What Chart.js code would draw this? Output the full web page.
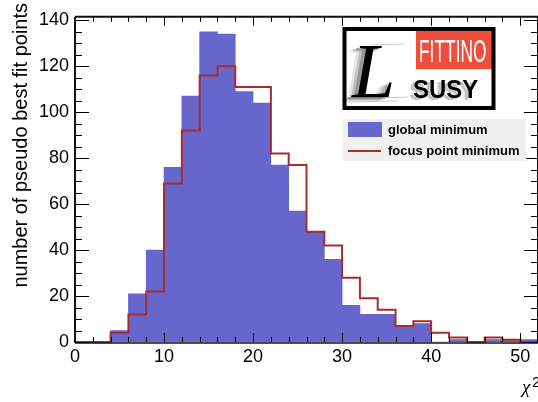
<!DOCTYPE html>
<html>
<head>
<meta charset="utf-8">
<script src="https://cdn.jsdelivr.net/npm/chart.js@4/dist/chart.umd.min.js"></script>
<style>
  body { margin: 0; background: #fff; }
  canvas { display: block; }
</style>
</head>
<body>
<canvas id="chi2Chart" width="538" height="402"></canvas>
<script>
// bin lower edges (width 2) of the chi2 histogram
const binStarts = [0, 2, 4, 6, 8, 10, 12, 14, 16, 18, 20, 22, 24, 26, 28, 30, 32, 34, 36, 38, 40, 42, 44, 46, 48, 50];
const binWidth = 2;
// global minimum (filled blue)
const globalMin = [0, 0, 5, 21, 40, 76, 107, 135, 134, 109, 104, 77, 57, 48, 36, 16, 12, 12, 7, 8, 0, 1, 0, 1, 1, 1];
// focus point minimum (red outline)
const focusPoint = [0, 0, 4, 12, 22, 69, 92, 116, 120, 111, 111, 82, 77, 48, 42, 28, 19, 14, 7, 9, 4, 2, 0, 2, 1, 0];

const xTicks = [0, 10, 20, 30, 40, 50];
const yTicks = [0, 20, 40, 60, 80, 100, 120, 140];

const blauw = 'rgb(102,102,204)';
const punainen = 'rgb(168,46,46)';

// bars sit on bin centres, the step line on bin edges
const barData = binStarts.map((b, i) => ({ x: b + binWidth / 2, y: globalMin[i] }));
const stepData = binStarts.map((b, i) => ({ x: b, y: focusPoint[i] }));
stepData.push({ x: binStarts[binStarts.length - 1] + binWidth, y: focusPoint[focusPoint.length - 1] });

function viiva(ctx, x1, y1, x2, y2) {
  ctx.beginPath(); ctx.moveTo(x1, y1); ctx.lineTo(x2, y2); ctx.stroke();
}

// ROOT-tyyliset sisäänpäin osoittavat tikit ja kehys
const kehys = {
  id: 'kehys',
  afterDatasetsDraw(chart) {
    const { ctx, chartArea: a, scales: { x, y } } = chart;
    ctx.save();
    ctx.strokeStyle = '#000';
    ctx.lineWidth = 1;
    for (let v = 0; v <= y.max; v += 5) {
      const py = Math.round(y.getPixelForValue(v)) + 0.5;
      const len = v % 20 === 0 ? 14 : 7;
      viiva(ctx, a.left, py, a.left + len, py);
      viiva(ctx, a.right, py, a.right - len, py);
    }
    for (let v = 0; v <= x.max; v += 2) {
      const px = Math.round(x.getPixelForValue(v)) + 0.5;
      const len = v % 10 === 0 ? 9 : 5;
      viiva(ctx, px, a.bottom, px, a.bottom - len);
      viiva(ctx, px, a.top, px, a.top + len);
    }
    ctx.lineWidth = 2;
    ctx.strokeStyle = '#111';
    viiva(ctx, a.left, a.top, a.right, a.top);
    viiva(ctx, a.left, a.top, a.left, a.bottom + 1);
    viiva(ctx, a.right, a.top, a.right, a.bottom + 1);
    ctx.lineWidth = 1.5;
    viiva(ctx, a.left, a.bottom + 1, a.right, a.bottom + 1);
    ctx.restore();
  },
  afterDraw(chart) {
    const ctx = chart.ctx;
    ctx.save();
    // y-akselin otsikko, ylälaitaan tasattu
    ctx.translate(21, 3);
    ctx.rotate(-Math.PI / 2);
    ctx.fillStyle = '#000';
    ctx.font = '20px "Liberation Sans", Arial, sans-serif';
    ctx.textAlign = 'right';
    ctx.textBaseline = 'middle';
    ctx.fillText('number of pseudo best fit points', 0, 0);
    ctx.restore();

    // x-akselin otsikko chi^2
    ctx.save();
    ctx.fillStyle = '#000';
    ctx.textBaseline = 'alphabetic';
    ctx.textAlign = 'left';
    ctx.font = 'italic 19px "Liberation Serif", serif';
    ctx.fillText('χ', 522, 393);
    ctx.font = '15px "Liberation Sans", Arial, sans-serif';
    ctx.fillText('2', 532, 387);
    ctx.restore();

    // legenda
    ctx.save();
    ctx.fillStyle = '#f0f0f0';
    ctx.fillRect(343, 119, 183, 42);
    ctx.fillStyle = blauw;
    ctx.fillRect(348, 122, 34, 15);
    ctx.strokeStyle = punainen;
    ctx.lineWidth = 2;
    viiva(ctx, 348, 151, 381, 151);
    ctx.fillStyle = '#000';
    ctx.font = 'bold 13px "Liberation Sans", Arial, sans-serif';
    ctx.textBaseline = 'middle';
    ctx.fillText('global minimum', 388, 130);
    ctx.fillText('focus point minimum', 388, 151);
    ctx.restore();

    // Fittino-logo
    ctx.save();
    ctx.fillStyle = '#fff';
    ctx.fillRect(345, 29, 148, 78);
    ctx.fillStyle = 'rgb(240,78,58)';
    ctx.fillRect(416, 31, 76, 38);
    ctx.fillStyle = '#fff';
    ctx.font = '31px "Liberation Sans", Arial, sans-serif';
    ctx.textBaseline = 'alphabetic';
    ctx.save();
    ctx.translate(419, 62);
    ctx.scale(0.56, 1);
    ctx.fillText('FITTINO', 0, 0);
    ctx.restore();
    // SUSY varjoineen
    ctx.font = 'bold 26px "Liberation Sans", Arial, sans-serif';
    ctx.save();
    ctx.translate(413, 98);
    ctx.scale(0.92, 1);
    ctx.fillStyle = 'rgba(140,140,140,0.5)';
    ctx.fillText('SUSY', -4, 2);
    ctx.fillStyle = '#000';
    ctx.fillText('SUSY', 0, 0);
    ctx.restore();
    // iso L harmain juovin
    ctx.font = 'italic 78px "Liberation Serif", serif';
    const harmaat = ['rgba(210,210,210,0.6)', 'rgba(170,170,170,0.6)', 'rgba(120,120,120,0.6)'];
    harmaat.forEach((c, i) => {
      ctx.fillStyle = c;
      ctx.fillText('L', 342 + i * 3, 101 - i);
    });
    ctx.fillStyle = '#000';
    ctx.fillText('L', 352, 97);
    ctx.strokeStyle = 'rgba(150,150,150,0.5)';
    ctx.lineWidth = 1;
    viiva(ctx, 350, 99, 408, 97);
    viiva(ctx, 348, 102, 398, 101);
    viiva(ctx, 372, 45, 405, 44);
    ctx.lineWidth = 4;
    ctx.strokeStyle = '#000';
    ctx.strokeRect(344.5, 29, 149, 79);
    ctx.restore();
  }
};

const tickFont = { family: '"Liberation Sans", Arial, sans-serif', size: 18 };

new Chart(document.getElementById('chi2Chart').getContext('2d'), {
  type: 'bar',
  data: {
    datasets: [
      {
        type: 'line',
        label: 'focus point minimum',
        data: stepData,
        stepped: true,
        borderColor: punainen,
        borderWidth: 2,
        pointRadius: 0,
        fill: false,
        clip: 4,
        order: 1
      },
      {
        type: 'bar',
        label: 'global minimum',
        data: barData,
        backgroundColor: blauw,
        borderWidth: 0,
        barPercentage: 1,
        categoryPercentage: 1,
        order: 2
      }
    ]
  },
  options: {
    responsive: false,
    animation: false,
    layout: { padding: { top: 16, left: 0, right: 0, bottom: 0 } },
    plugins: { legend: { display: false }, tooltip: { enabled: false } },
    scales: {
      x: {
        type: 'linear',
        min: 0,
        max: 52,
        offset: false,
        grid: { display: false, drawTicks: false },
        border: { display: false },
        afterBuildTicks: s => { s.ticks = xTicks.map(v => ({ value: v })); },
        afterFit: s => { s.height = 60; },
        ticks: { font: tickFont, color: '#000', padding: 4, maxRotation: 0 }
      },
      y: {
        min: 0,
        max: 141.5,
        grid: { display: false, drawTicks: false },
        border: { display: false },
        afterBuildTicks: s => { s.ticks = yTicks.map(v => ({ value: v })); },
        afterFit: s => { s.width = 75; },
        ticks: { font: tickFont, color: '#000', padding: 6 }
      }
    }
  },
  plugins: [kehys]
});
</script>
</body>
</html>
